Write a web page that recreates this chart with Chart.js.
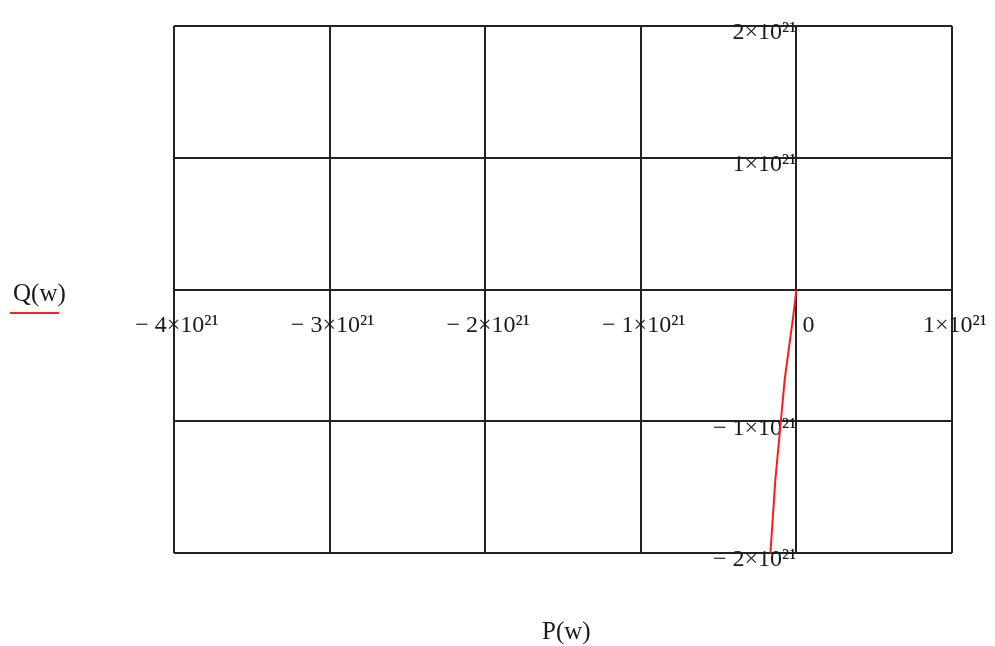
<!DOCTYPE html>
<html>
<head>
<meta charset="utf-8">
<script src="https://cdn.jsdelivr.net/npm/chart.js@4/dist/chart.umd.min.js"></script>
<style>
  html, body { margin: 0; padding: 0; background: #fff; }
  #wrap { position: relative; width: 995px; height: 646px; }
  .title { position: absolute; font-family: "Liberation Serif", serif; font-size: 25px; line-height: 28px; color: #1a1a1a; }
  #qTitle { left: 13px; top: 279px; }
  #qLine { position: absolute; left: 10px; top: 312px; width: 49px; height: 2px; background: #ff2020; }
  #pTitle { left: 542px; top: 617px; }
</style>
</head>
<body>
<div id="wrap">
  <canvas id="plot" width="995" height="646"></canvas>
  <div class="title" id="qTitle">Q(w)</div>
  <div id="qLine"></div>
  <div class="title" id="pTitle">P(w)</div>
</div>
<script>
// curve Q(w) against P(w)
const pValues = [0, -0.02e21, -0.075e21, -0.1e21, -0.135e21, -0.167e21];
const qValues = [0, -0.2e21, -0.68e21, -1e21, -1.44e21, -2e21];

const xTicks = [-4e21, -3e21, -2e21, -1e21, 0, 1e21];
const xTickLabels = ['\u2212 4\u00d710\u00b2\u00b9', '\u2212 3\u00d710\u00b2\u00b9', '\u2212 2\u00d710\u00b2\u00b9', '\u2212 1\u00d710\u00b2\u00b9', '   0', '1\u00d710\u00b2\u00b9'];
const yTicks = [-2e21, -1e21, 0, 1e21, 2e21];
const yTickLabels = ['\u2212 2\u00d710\u00b2\u00b9', '\u2212 1\u00d710\u00b2\u00b9', '', '1\u00d710\u00b2\u00b9', '2\u00d710\u00b2\u00b9'];

const points = pValues.map((p, i) => ({ x: p, y: qValues[i] }));

const tickFont = { family: 'Liberation Serif', size: 24 };
const gridStyle = { color: '#222', lineWidth: 2, drawTicks: false };

new Chart(document.getElementById('plot'), {
  type: 'scatter',
  data: {
    datasets: [{
      data: points,
      showLine: true,
      borderColor: '#ff1a1a',
      borderWidth: 2,
      pointRadius: 0,
      tension: 0
    }]
  },
  options: {
    responsive: false,
    animation: false,
    layout: { padding: { left: 174, right: 43, top: 26, bottom: 93 } },
    plugins: { legend: { display: false }, tooltip: { enabled: false } },
    scales: {
      x: {
        type: 'linear',
        position: { y: 0 },
        min: -4e21,
        max: 1e21,
        afterBuildTicks: s => { s.ticks = xTicks.map(v => ({ value: v })); },
        afterFit: s => { s.height = 0; s.paddingLeft = 0; s.paddingRight = 0; },
        grid: gridStyle,
        border: { color: '#222', width: 2 },
        ticks: {
          font: tickFont,
          color: '#1a1a1a',
          padding: 22,
          labelOffset: 3,
          maxRotation: 0,
          autoSkip: false,
          callback: v => xTickLabels[xTicks.indexOf(v)]
        }
      },
      y: {
        type: 'linear',
        position: { x: 0 },
        min: -2e21,
        max: 2e21,
        afterBuildTicks: s => { s.ticks = yTicks.map(v => ({ value: v })); },
        afterFit: s => { s.width = 0; s.paddingTop = 0; s.paddingBottom = 0; },
        grid: gridStyle,
        border: { color: '#222', width: 2 },
        ticks: {
          font: tickFont,
          color: '#1a1a1a',
          padding: 1,
          labelOffset: 7,
          autoSkip: false,
          callback: v => yTickLabels[yTicks.indexOf(v)]
        }
      }
    }
  }
});
</script>
</body>
</html>
